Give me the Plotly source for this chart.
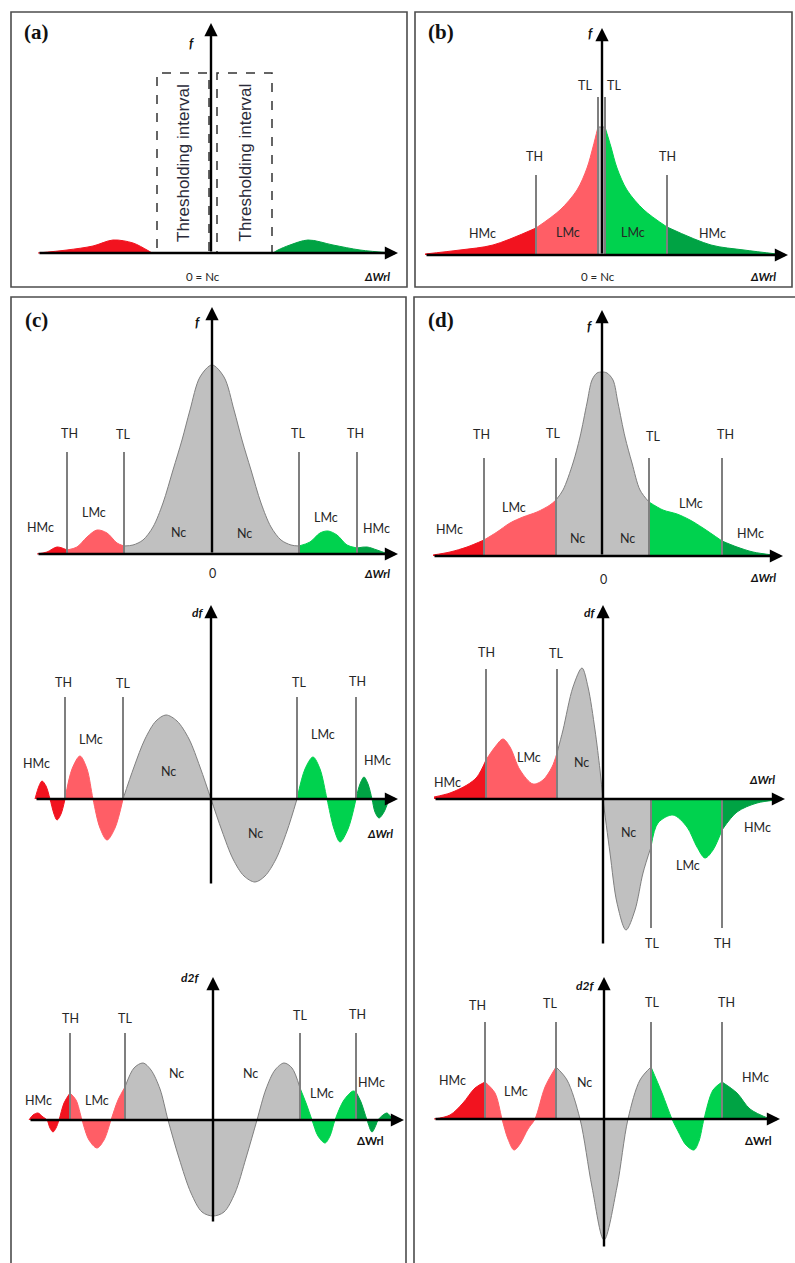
import plotly.graph_objects as go

W, H = 795, 1263

# ------------------------------------------------------------------
# DATA (x = ΔWrl offset, y = f / df / d2f)
# ------------------------------------------------------------------
# (a) distributions outside the thresholding intervals
A_LEFT_X = [-173, -144, -118, -98, -78, -64, -59]
A_LEFT_Y = [0, 3, 7, 13, 10, 3, 0]
A_RIGHT_X = [62, 67, 79, 97, 122, 149, 181]
A_RIGHT_Y = [0, 3, 8, 13, 8, 3, 0]
A_INTERVALS = [(-54, -2), (6, 61)]
A_INTERVAL_TOP = 180

# (b) exponential-like distribution
B_X = [-177, -142, -109, -66, -42, -25, -15, -9, -4, 0, 3, 9, 15, 25, 42, 65, 109, 142, 175]
B_Y = [1, 5, 10, 27, 45, 65, 87, 108, 128, 128, 128, 108, 87, 65, 45, 28, 10, 5, 1]
B_TH = [-66, 65]
B_TL = [-4, 3]

# (c) f, df, d2f
C1_X = [-175, -165, -155, -145, -135, -125, -115, -105, -95, -88, -79, -69, -59, -49, -39, -30,
        -22, -12, 0, 12, 22, 30, 39, 49, 59, 69, 79, 87, 98, 108, 116, 125, 135, 145, 155, 165, 176]
C1_Y = [0, 2, 7, 4, 7, 17, 24, 21, 11, 8, 9, 14, 27, 51, 84, 114,
        144, 177, 189, 177, 144, 114, 84, 51, 27, 14, 9, 8, 12, 21, 23, 19, 9, 6, 7, 4, 0]
C1_TH = [-145, 145]
C1_TL = [-88, 87]

C2_X = [-176, -172, -169, -165, -161, -157, -154, -150, -146, -139, -131, -124, -118, -111, -104, -96,
        -88, -77, -66, -55, -45, -34, -22, -11, 0, 11, 22, 33, 44, 54, 65, 76,
        86, 94, 102, 109, 116, 123, 129, 137, 145, 149, 153, 157, 161, 164, 168, 173, 178]
C2_Y = [0, 13, 18, 13, 0, -15, -21, -15, 0, 30, 43, 30, 0, -29, -41, -29,
        0, 32, 60, 78, 84, 78, 60, 32, 0, -32, -60, -77, -83, -77, -60, -32,
        0, 30, 42, 30, 0, -30, -43, -30, 0, 15, 22, 15, 0, -13, -19, -13, 0]
C2_TH = [-146, 145]
C2_TL = [-88, 86]

C3_X = [-184, -180, -175, -170, -166, -163, -160, -157, -154, -149, -143, -137, -131, -124, -116, -109,
        -102, -95, -88, -79, -70, -62, -53, -45, -34, -22, -11, 0, 11, 22, 33, 44,
        53, 62, 71, 79, 87, 93, 99, 105, 112, 117, 122, 131, 140, 143, 148, 154,
        159, 163, 165, 170, 174, 178, 181]
C3_Y = [0, 5, 7, 3, 0, -8, -12, -8, 0, 17, 27, 20, 0, -20, -28, -20,
        0, 20, 33, 52, 57, 50, 31, 0, -38, -73, -92, -96, -92, -73, -38, 0,
        31, 50, 57, 52, 32, 17, 0, -16, -23, -16, 0, 20, 29, 28, 18, 0,
        -12, -5, 0, 5, 7, 3, 0]
C3_TH = [-143, 143]
C3_TL = [-88, 87]

# (d) f, df, d2f
D1_X = [-169, -152, -135, -118, -105, -92, -79, -65, -52, -46, -39, -29, -22, -15, -10, -5,
        0, 5, 11, 16, 23, 30, 38, 47, 61, 75, 88, 101, 120, 135, 151, 171]
D1_Y = [1, 4, 9, 16, 24, 33, 39, 44, 51, 56, 66, 93, 119, 153, 176, 183,
        184, 183, 176, 153, 119, 93, 66, 54, 46, 42, 36, 28, 15, 9, 4, 1]
D1_TH = [-118, 120]
D1_TL = [-46, 47]

D2_X = [-169, -153, -136, -126, -117, -108, -100, -93, -83, -70, -60, -51, -46, -40, -30, -21,
        -15, -8, -3, 0, 7, 14, 23, 32, 40, 48, 55, 70, 84, 94, 102, 110, 119, 134, 154, 174]
D2_Y = [2, 6, 14, 22, 39, 52, 60, 52, 29, 15, 19, 32, 46, 69, 112, 131,
        112, 69, 29, 0, -54, -104, -131, -111, -74, -48, -24, -16, -28, -48, -59, -51, -31, -13, -4, -1]
D2_TH = [-117, 119]
D2_TL = [-46, 48]

D3_X = [-170, -154, -141, -129, -119, -109, -102, -96, -90, -84, -76, -69, -59, -48, -37, -24,
        -12, 0, 13, 24, 36, 47, 58, 68, 74, 82, 90, 95, 100, 109, 118, 133, 146, 166]
D3_Y = [0, 4, 16, 31, 37, 26, 0, -20, -31, -25, -10, 0, 32, 52, 39, 0,
        -68, -121, -68, 0, 39, 52, 26, 0, -12, -26, -31, -22, 0, 29, 37, 26, 10, 0]
D3_TH = [-119, 118]
D3_TL = [-48, 47]

# ------------------------------------------------------------------
# STYLE / LAYOUT
# ------------------------------------------------------------------
COL_HMC_L = '#f2131f'
COL_LMC_L = '#ff5e66'
COL_NC = '#c0c0c0'
COL_LMC_R = '#00d24e'
COL_HMC_R = '#00a344'
REGION_FILL = [COL_HMC_L, COL_LMC_L, COL_NC, COL_LMC_R, COL_HMC_R]
REGION_EDGE = [COL_HMC_L, COL_LMC_L, '#808080', COL_LMC_R, COL_HMC_R]
THRESH_COL = '#7f7f7f'
LBL_FONT = 'Lato, Open Sans, sans-serif'
LBL_COL = '#262626'
LBL_SIZE = 12.5

# origin (pixel) of each sub-chart: (x, y from top)
ORIGINS = {
    'a': (211, 253), 'b': (602, 255),
    'c1': (212, 554), 'c2': (211, 799), 'c3': (213, 1120),
    'd1': (602, 556), 'd2': (603, 799), 'd3': (604, 1119),
}
# axis extents: xmin, xmax, ymin, ymax
AXES_EXT = {
    'a': (-173, 187, 0, 230), 'b': (-177, 186, 0, 227),
    'c1': (-175, 186, 0, 247), 'c2': (-176, 187, -86, 194), 'c3': (-184, 191, -103, 143),
    'd1': (-169, 181, 0, 246), 'd2': (-169, 182, -146, 194), 'd3': (-170, 176, -129, 142),
}

names = list(ORIGINS.keys())
AX = {}
layout = dict(width=W, height=H, autosize=False, margin=dict(l=0, r=0, t=0, b=0, pad=0),
              paper_bgcolor='white', plot_bgcolor='rgba(0,0,0,0)', showlegend=False)
for i, n in enumerate(names):
    sfx = '' if i == 0 else str(i + 1)
    ox, oy = ORIGINS[n]
    xa = dict(range=[-ox, W - ox], domain=[0, 1], visible=False, fixedrange=True, anchor='y' + sfx)
    ya = dict(range=[oy - H, oy], domain=[0, 1], visible=False, fixedrange=True, anchor='x' + sfx)
    if i > 0:
        xa['overlaying'] = 'x'
        ya['overlaying'] = 'y'
    layout['xaxis' + sfx] = xa
    layout['yaxis' + sfx] = ya
    AX[n] = ('x' + sfx, 'y' + sfx)

fig = go.Figure()
shapes, annots = [], []


def area(n, xs, ys, fill, edge):
    xr, yr = AX[n]
    fig.add_trace(go.Scatter(x=xs, y=ys, mode='lines', fill='tozeroy', fillcolor=fill,
                             line=dict(color=edge, width=1, shape='spline', smoothing=0.9),
                             xaxis=xr, yaxis=yr, hoverinfo='skip', showlegend=False))


def regions(n, xs, ys, th, tl):
    bounds = [min(xs), th[0], tl[0], tl[1], th[1], max(xs)]
    for k in range(5):
        lo, hi = bounds[k], bounds[k + 1]
        pts = [(x, y) for x, y in zip(xs, ys) if lo <= x <= hi]
        if len(pts) >= 2:
            area(n, [p[0] for p in pts], [p[1] for p in pts], REGION_FILL[k], REGION_EDGE[k])


def tlines(n, xs, y0, y1):
    xr, yr = AX[n]
    for x in xs:
        shapes.append(dict(type='line', xref=xr, yref=yr, x0=x, x1=x, y0=y0, y1=y1,
                           line=dict(color=THRESH_COL, width=2)))


def axes_arrows(n):
    xr, yr = AX[n]
    x0, x1, y0, y1 = AXES_EXT[n]
    for (tx, ty, sx, sy) in [(x1, 0, x0, 0), (0, y1, 0, y0)]:
        annots.append(dict(x=tx, y=ty, ax=sx, ay=sy, xref=xr, yref=yr, axref=xr, ayref=yr,
                           text='', showarrow=True, arrowhead=2, arrowsize=1.1,
                           arrowwidth=2.4, arrowcolor='black', standoff=0, startstandoff=0))


def lbl(n, text, x, y, size=LBL_SIZE, **kw):
    xr, yr = AX[n]
    d = dict(x=x, y=y, xref=xr, yref=yr, text=text, showarrow=False,
             font=dict(family=kw.pop('family', LBL_FONT), size=size, color=kw.pop('color', LBL_COL)),
             xanchor='center', yanchor='middle')
    d.update(kw)
    annots.append(d)


def axlabel(n, text, x, y, size=12):
    lbl(n, '<b><i>' + text + '</i></b>', x, y, size=size, color='#111')


# ---------------- (a) ----------------
area('a', A_LEFT_X, A_LEFT_Y, COL_HMC_L, COL_HMC_L)
area('a', A_RIGHT_X, A_RIGHT_Y, COL_HMC_R, COL_HMC_R)
xr, yr = AX['a']
for (lo, hi) in A_INTERVALS:
    shapes.append(dict(type='rect', xref=xr, yref=yr, x0=lo, x1=hi, y0=0, y1=A_INTERVAL_TOP,
                       line=dict(color='#333333', width=1.5, dash='dash')))
    lbl('a', 'Thresholding interval', (lo + hi) / 2, A_INTERVAL_TOP / 2, size=17,
        family='Liberation Sans, Arial, sans-serif', color='#2b2b3a', textangle=-90)
axes_arrows('a')
axlabel('a', 'f', -20, 210, 13)
lbl('a', '0 = Nc', -8, -23, 11.5)
axlabel('a', 'ΔWrl', 166, -23, 11.5)

# ---------------- (b) ----------------
regions('b', B_X, B_Y, B_TH, B_TL)
tlines('b', B_TH, 0, 80)
tlines('b', B_TL, 0, 158)
axes_arrows('b')
axlabel('b', 'f', -12, 222, 13)
for t, x, y in [('TL', -17, 170), ('TL', 12, 170), ('TH', -68, 99), ('TH', 65, 99),
                ('HMc', -120, 22), ('LMc', -34, 23), ('LMc', 31, 23), ('HMc', 110, 22)]:
    lbl('b', t, x, y)
lbl('b', '0 = Nc', -4, -21, 11.5)
axlabel('b', 'ΔWrl', 161, -21, 11.5)

# ---------------- (c) ----------------
regions('c1', C1_X, C1_Y, C1_TH, C1_TL)
tlines('c1', C1_TH + C1_TL, 0, 102)
axes_arrows('c1')
axlabel('c1', 'f', -15, 232, 13)
for t, x, y in [('TH', -143, 121), ('TL', -89, 120), ('TL', 86, 121), ('TH', 143, 121),
                ('HMc', -172, 27), ('LMc', -118, 42), ('Nc', -34, 22), ('Nc', 32, 21),
                ('LMc', 114, 37), ('HMc', 164, 26), ('0', 0, -19)]:
    lbl('c1', t, x, y)
axlabel('c1', 'ΔWrl', 165, -19, 11.5)

regions('c2', C2_X, C2_Y, C2_TH, C2_TL)
tlines('c2', C2_TH + C2_TL, 0, 102)
axes_arrows('c2')
axlabel('c2', 'df', -14, 187, 12)
for t, x, y in [('TH', -148, 117), ('TL', -88, 116), ('TL', 88, 117), ('TH', 146, 118),
                ('HMc', -175, 36), ('LMc', -120, 60), ('Nc', -43, 28), ('Nc', 44, -34),
                ('LMc', 112, 65), ('HMc', 166, 39)]:
    lbl('c2', t, x, y)
axlabel('c2', 'ΔWrl', 169, -34, 11.5)

regions('c3', C3_X, C3_Y, C3_TH, C3_TL)
tlines('c3', C3_TH + C3_TL, 0, 87)
axes_arrows('c3')
axlabel('c3', 'd2f', -23, 143, 12)
for t, x, y in [('TH', -143, 102), ('TL', -88, 102), ('TL', 87, 105), ('TH', 144, 106),
                ('HMc', -175, 20), ('LMc', -116, 20), ('Nc', -37, 47), ('Nc', 37, 47),
                ('LMc', 109, 27), ('HMc', 158, 38)]:
    lbl('c3', t, x, y)
lbl('c3', '<b>ΔWrl</b>', 157, -20, 11.5, color='#111')

# ---------------- (d) ----------------
regions('d1', D1_X, D1_Y, D1_TH, D1_TL)
tlines('d1', D1_TH + D1_TL, 0, 98)
axes_arrows('d1')
axlabel('d1', 'f', -13, 230, 13)
for t, x, y in [('TH', -121, 122), ('TL', -49, 123), ('TL', 51, 120), ('TH', 123, 122),
                ('HMc', -153, 27), ('LMc', -88, 49), ('Nc', -25, 18), ('Nc', 25, 18),
                ('LMc', 89, 53), ('HMc', 148, 23), ('0', 1, -23)]:
    lbl('d1', t, x, y)
axlabel('d1', 'ΔWrl', 161, -21, 11.5)

regions('d2', D2_X, D2_Y, D2_TH, D2_TL)
tlines('d2', [D2_TH[0], D2_TL[0]], 0, 130)
tlines('d2', [D2_TL[1], D2_TH[1]], 0, -129)
axes_arrows('d2')
axlabel('d2', 'df', -14, 187, 12)
for t, x, y in [('TH', -117, 147), ('TL', -47, 146), ('TL', 49, -144), ('TH', 119, -144),
                ('HMc', -156, 17), ('LMc', -74, 42), ('Nc', -22, 37),
                ('Nc', 25, -33), ('LMc', 85, -66), ('HMc', 154, -28)]:
    lbl('d2', t, x, y)
axlabel('d2', 'ΔWrl', 159, 20, 11.5)

regions('d3', D3_X, D3_Y, D3_TH, D3_TL)
tlines('d3', D3_TH + D3_TL, 0, 97)
axes_arrows('d3')
axlabel('d3', 'd2f', -19, 134, 12)
for t, x, y in [('TH', -127, 114), ('TL', -54, 116), ('TL', 48, 117), ('TH', 122, 117),
                ('HMc', -152, 39), ('LMc', -88, 28), ('Nc', -20, 37), ('HMc', 151, 42)]:
    lbl('d3', t, x, y)
lbl('d3', '<b>ΔWrl</b>', 154, -21, 11.5, color='#111')


# ---------------- panel frames and letters ----------------
def px(x):
    return x / W


def py(y):
    return 1 - y / H


FRAMES = [(11, 12, 407, 287), (415, 12, 792, 287), (11, 297, 406, 1275), (414, 297, 800, 1275)]
for (x0, y0, x1, y1) in FRAMES:
    shapes.append(dict(type='rect', xref='paper', yref='paper', x0=px(x0), x1=px(x1),
                       y0=py(y1), y1=py(y0), line=dict(color='#4d4d4d', width=1.6)))
for t, x, y in [('(a)', 36, 32), ('(b)', 441, 32), ('(c)', 36, 320), ('(d)', 441, 320)]:
    annots.append(dict(x=px(x), y=py(y), xref='paper', yref='paper', text='<b>' + t + '</b>',
                       showarrow=False, xanchor='center', yanchor='middle',
                       font=dict(family='Liberation Serif, Times New Roman, serif', size=21,
                                 color='#111')))

layout['shapes'] = shapes
layout['annotations'] = annots
fig.update_layout(**layout)
fig.write_html('out.html', config={'displayModeBar': False, 'staticPlot': True},
               post_script="document.body.style.margin='0';document.body.style.padding='0';"
                           "document.body.style.overflow='hidden';")
